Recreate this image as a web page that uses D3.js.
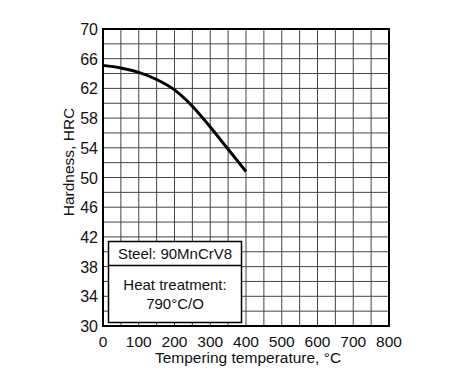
<!DOCTYPE html>
<html>
<head>
<meta charset="utf-8">
<script src="https://cdn.jsdelivr.net/npm/d3@7"></script>
<style>
  body { margin: 0; background: #fff; }
  text { font-family: "Liberation Sans", Arial, sans-serif; fill: #111; }
</style>
</head>
<body>
<script>
const temps = [0, 50, 100, 150, 200, 250, 300, 350, 400];
const hardness = [65.1, 64.75, 64.15, 63.2, 61.8, 59.6, 56.8, 53.8, 50.8];
const xTicks = [0, 100, 200, 300, 400, 500, 600, 700, 800];
const yTicks = [30, 34, 38, 42, 46, 50, 54, 58, 62, 66, 70];

const width = 461, height = 391;
const margin = { left: 103, right: 72, top: 29, bottom: 65 };

const svg = d3.select('body').append('svg')
    .attr('width', width)
    .attr('height', height);

const x = d3.scaleLinear().domain([0, 800]).range([margin.left, width - margin.right]);
const y = d3.scaleLinear().domain([30, 70]).range([height - margin.bottom, margin.top]);

// grid
svg.append('g')
    .selectAll('line')
    .data(d3.range(50, 800, 50))
    .enter().append('line')
    .attr('x1', d => x(d)).attr('x2', d => x(d))
    .attr('y1', y(30)).attr('y2', y(70))
    .attr('stroke', '#444').attr('stroke-width', 1);

svg.append('g')
    .selectAll('line')
    .data(d3.range(32, 70, 2))
    .enter().append('line')
    .attr('x1', x(0)).attr('x2', x(800))
    .attr('y1', d => y(d)).attr('y2', d => y(d))
    .attr('stroke', '#444').attr('stroke-width', 1);

svg.append('rect')
    .attr('x', x(0)).attr('y', y(70))
    .attr('width', x(800) - x(0)).attr('height', y(30) - y(70))
    .attr('fill', 'none').attr('stroke', '#000').attr('stroke-width', 2);

// tick labels
svg.append('g')
    .selectAll('text')
    .data(yTicks)
    .enter().append('text')
    .attr('x', x(0) - 5)
    .attr('y', d => y(d) + 6)
    .attr('text-anchor', 'end')
    .attr('font-size', 16)
    .text(d => d);

svg.append('g')
    .selectAll('text')
    .data(xTicks)
    .enter().append('text')
    .attr('x', d => x(d))
    .attr('y', 347)
    .attr('text-anchor', 'middle')
    .attr('font-size', 15.5)
    .text(d => d);

svg.append('text')
    .attr('x', (x(0) + x(800)) / 2 + 2)
    .attr('y', 363)
    .attr('text-anchor', 'middle')
    .attr('font-size', 15.5)
    .text('Tempering temperature, °C');

svg.append('text')
    .attr('transform', `translate(74, 162) rotate(-90)`)
    .attr('text-anchor', 'middle')
    .attr('font-size', 15.5)
    .text('Hardness, HRC');

// curve
const line = d3.line()
    .x((d, i) => x(temps[i]))
    .y(d => y(d))
    .curve(d3.curveMonotoneX);

svg.append('path')
    .datum(hardness)
    .attr('d', line)
    .attr('fill', 'none')
    .attr('stroke', '#000')
    .attr('stroke-width', 3);

// legend box
const box = svg.append('g');
box.append('rect')
    .attr('x', 108.5).attr('y', 241.5)
    .attr('width', 133).attr('height', 81)
    .attr('fill', '#fff').attr('stroke', '#000').attr('stroke-width', 1.5);
box.append('line')
    .attr('x1', 108.5).attr('x2', 241.5)
    .attr('y1', 265.5).attr('y2', 265.5)
    .attr('stroke', '#000').attr('stroke-width', 1.5);
box.append('text')
    .attr('x', 175).attr('y', 259)
    .attr('text-anchor', 'middle').attr('font-size', 15)
    .text('Steel: 90MnCrV8');
box.append('text')
    .attr('x', 175).attr('y', 290)
    .attr('text-anchor', 'middle').attr('font-size', 15)
    .text('Heat treatment:');
box.append('text')
    .attr('x', 175).attr('y', 309)
    .attr('text-anchor', 'middle').attr('font-size', 15)
    .text('790°C/O');
</script>
</body>
</html>
